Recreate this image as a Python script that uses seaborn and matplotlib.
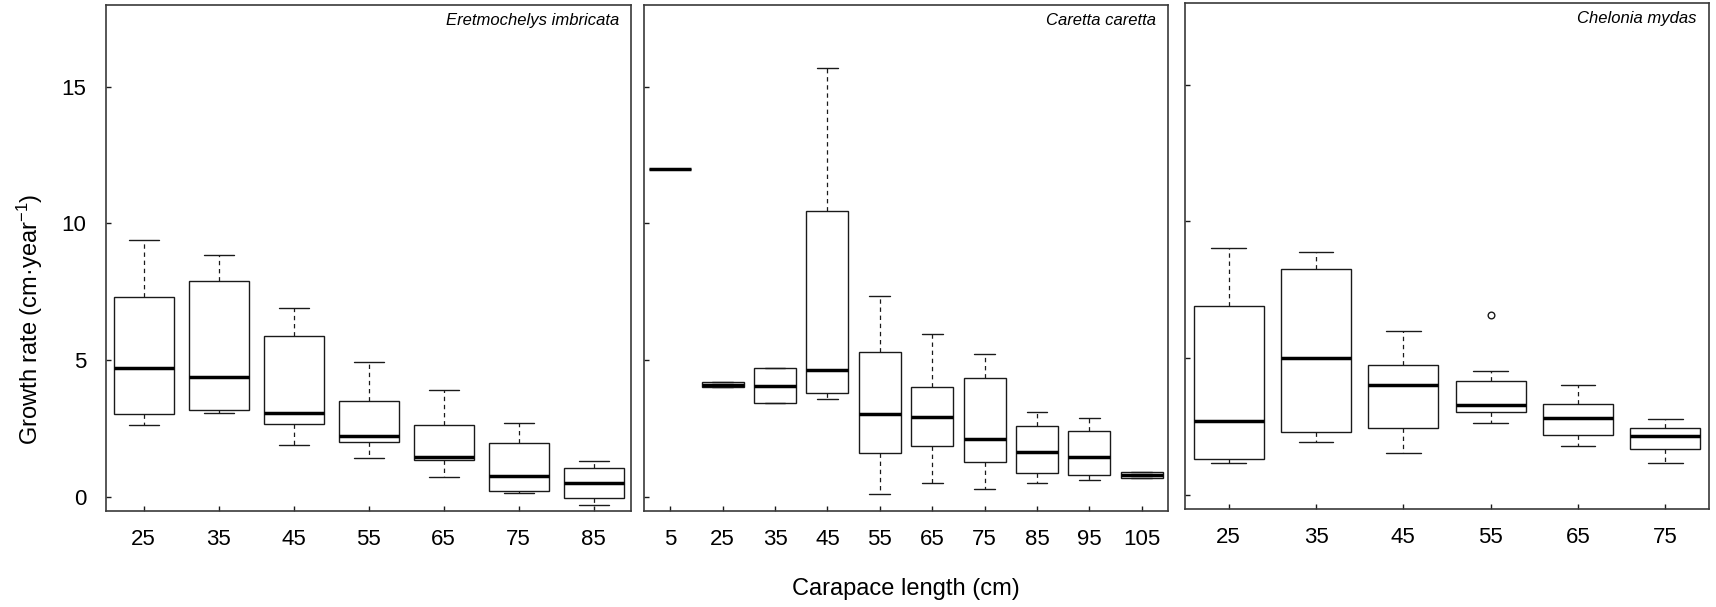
import numpy as np
import pandas as pd
import matplotlib
matplotlib.use("Agg")
import matplotlib.pyplot as plt
import seaborn as sns

# ---------------- data ----------------
eret_lengths = ["25", "35", "45", "55", "65", "75", "85"]
eret_min = [2.62, 3.07, 1.88, 1.43, 0.72, 0.15, -0.29]
eret_q1 = [3.04, 3.16, 2.65, 2.00, 1.34, 0.21, -0.06]
eret_med = [4.72, 4.39, 3.07, 2.22, 1.46, 0.76, 0.51]
eret_q3 = [7.32, 7.89, 5.89, 3.49, 2.62, 1.98, 1.06]
eret_max = [9.39, 8.83, 6.89, 4.93, 3.90, 2.68, 1.31]

car_lengths = ["5", "25", "35", "45", "55", "65", "75", "85", "95", "105"]
car_min = [12.0, 4.00, 3.42, 3.59, 0.11, 0.50, 0.28, 0.50, 0.61, 0.67]
car_q1 = [12.0, 4.00, 3.42, 3.79, 1.59, 1.84, 1.27, 0.86, 0.78, 0.67]
car_med = [12.0, 4.10, 4.04, 4.64, 3.03, 2.92, 2.11, 1.65, 1.45, 0.80]
car_q3 = [12.0, 4.19, 4.70, 10.47, 5.28, 4.00, 4.33, 2.58, 2.39, 0.92]
car_max = [12.0, 4.19, 4.70, 15.69, 7.36, 5.97, 5.21, 3.09, 2.88, 0.92]

chel_lengths = ["25", "35", "45", "55", "65", "75"]
chel_min = [1.15, 1.93, 1.54, 2.61, 1.78, 1.18]
chel_q1 = [1.29, 2.28, 2.44, 3.04, 2.17, 1.66]
chel_med = [2.70, 5.00, 4.01, 3.29, 2.79, 2.14]
chel_q3 = [6.90, 8.27, 4.76, 4.17, 3.33, 2.44]
chel_max = [9.04, 8.88, 5.99, 4.52, 4.01, 2.77]
chel_outlier_lengths = ["55"]
chel_outlier_values = [6.59]

species = ["Eretmochelys imbricata", "Caretta caretta", "Chelonia mydas"]
y_ticks = [0, 5, 10, 15]

# ---------------- style ----------------
sns.set_theme(style="white")
plt.rcParams["font.family"] = ["Liberation Sans", "DejaVu Sans"]
plt.rcParams["mathtext.fontset"] = "custom"
plt.rcParams["mathtext.rm"] = "Liberation Sans"
plt.rcParams["mathtext.it"] = "Liberation Sans:italic"
plt.rcParams["mathtext.bf"] = "Liberation Sans:bold"


def long_frame(lengths, mins, q1s, meds, q3s, maxs):
    rows = []
    for L, a, b, c, d, e in zip(lengths, mins, q1s, meds, q3s, maxs):
        for v in (a, b, c, d, e):
            rows.append({"length": L, "rate": v})
    return pd.DataFrame(rows)


panels = [
    (long_frame(eret_lengths, eret_min, eret_q1, eret_med, eret_q3, eret_max), eret_lengths),
    (long_frame(car_lengths, car_min, car_q1, car_med, car_q3, car_max), car_lengths),
    (long_frame(chel_lengths, chel_min, chel_q1, chel_med, chel_q3, chel_max), chel_lengths),
]

W, H = 1716, 607
fig = plt.figure(figsize=(W / 100, H / 100), dpi=100)
rects = [
    (106, 4.7, 525, 506.0),
    (644, 4.7, 524, 506.0),
    (1185, 2.7, 524, 506.0),
]

edge = "#1a1a1a"
for i, ((df, order), (x0, top, w, h)) in enumerate(zip(panels, rects)):
    ax = fig.add_axes([x0 / W, 1 - (top + h) / H, w / W, h / H])
    sns.boxplot(
        data=df, x="length", y="rate", order=order, ax=ax,
        color="white", linecolor=edge, linewidth=1.0, width=0.8,
        whis=(0, 100), showfliers=False,
        boxprops={"edgecolor": edge, "linewidth": 1.0},
        medianprops={"color": "black", "linewidth": 2.5},
        whiskerprops={"color": edge, "linewidth": 0.9, "linestyle": (0, (3.5, 3))},
        capprops={"color": edge, "linewidth": 1.0},
    )
    if i == 2:
        out_df = pd.DataFrame({"length": chel_outlier_lengths, "rate": chel_outlier_values})
        sns.stripplot(
            data=out_df, x="length", y="rate", order=order, ax=ax,
            jitter=False, color="white", edgecolor=edge, linewidth=1.0, size=4.8,
        )
    ax.set_xlim(-0.5, len(order) - 0.5)
    ax.set_ylim(-0.51, 18.0)
    ax.set_yticks(y_ticks)
    ax.set_xlabel("")
    ax.set_ylabel("")
    ax.tick_params(axis="both", direction="in", length=3.6, width=1.0,
                   colors=edge, labelcolor="black", labelsize=16)
    ax.tick_params(axis="x", pad=13.5, bottom=True)
    ax.tick_params(axis="y", pad=14, left=True)
    if i > 0:
        ax.set_yticklabels([])
    for s in ax.spines.values():
        s.set_visible(True)
        s.set_color("#3a3a3a")
        s.set_linewidth(1.2)
    ax.text(0.977, 0.984, species[i], transform=ax.transAxes, ha="right", va="top",
            fontsize=12, fontstyle="italic", color="black")

fig.text(30 / W, 1 - 319.5 / H, "Growth rate (cm·year$^{-1}$)", rotation=90,
         ha="center", va="center", fontsize=17, color="black")
fig.text(906 / W, 1 - 589 / H, "Carapace length (cm)", ha="center", va="center",
         fontsize=17, color="black")

fig.savefig("out.png", dpi=100, facecolor="white")
